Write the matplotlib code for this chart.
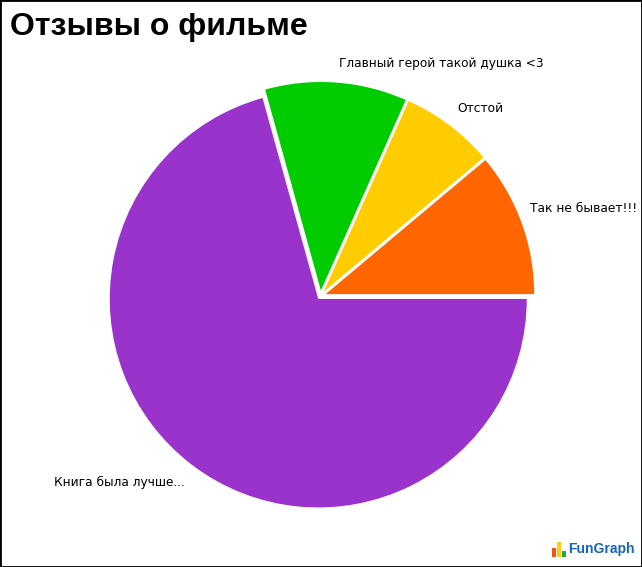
import matplotlib
matplotlib.use('Agg')
import matplotlib.pyplot as plt

W, H = 642, 567

title = 'Отзывы о фильме'
labels = ['Так не бывает!!!', 'Отстой', 'Главный герой такой душка <3', 'Книга была лучше...']
values = [40, 26, 39.5, 254.5]
colors = ['#ff6600', '#ffcc00', '#00cc00', '#9933cc']
explode_px = [5.5, 5.5, 5.5, 3.7]
logo_heights = [9, 15, 6]
logo_colors = ['#ee5511', '#ffcc11', '#22aa44']

fig = plt.figure(figsize=(W / 100, H / 100), dpi=100, facecolor='white')
ax = fig.add_axes([0, 0, 1, 1])

# радиус и центр в пикселях картинки, ось y идёт вверх
r = 208.5
ax.pie(values, colors=colors, startangle=0, counterclock=True,
       radius=r, center=(320.5, H - 296),
       explode=explode_px, frame=True,
       wedgeprops={'linewidth': 0})
ax.set_xlim(0, W)
ax.set_ylim(0, H)
ax.set_aspect('auto')
ax.set_xticks([])
ax.set_yticks([])
for s in ax.spines.values():
    s.set_linewidth(2)
    s.set_color('black')

ax.text(10, H - 27, title, fontsize=23, fontweight='bold', family='Liberation Sans',
        va='center', ha='left', color='black')

# подписи секторов
ax.text(530, H - 208.5, labels[0], fontsize=8.8, va='center', ha='left')
ax.text(457, H - 108.5, labels[1], fontsize=8.8, va='center', ha='left')
ax.text(339, H - 63.5, labels[2], fontsize=8.7, va='center', ha='left')
ax.text(54, H - 482.5, labels[3], fontsize=8.7, va='center', ha='left')

# логотип
logo = fig.add_axes([551 / W, (H - 557) / H, 16 / W, 16 / H])
logo.bar(range(3), logo_heights, width=0.8, color=logo_colors)
logo.set_ylim(0, 16)
logo.axis('off')
ax.text(568, H - 549.5, 'FunGraph', fontsize=10, fontweight='bold', color='#1166bb',
        va='center', ha='left', family='Liberation Sans')

fig.savefig('out.png', dpi=100)
